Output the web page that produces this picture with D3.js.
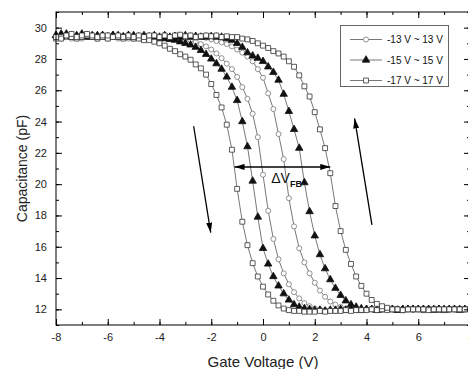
<!DOCTYPE html>
<html>
<head>
<meta charset="utf-8">
<script src="https://cdn.jsdelivr.net/npm/d3@7"></script>
<style>
  html, body { margin: 0; padding: 0; background: #fff; }
  svg { display: block; font-family: "Liberation Sans", Arial, sans-serif; }
</style>
</head>
<body>
<div id="chart"></div>
<script>
// gate voltage grid of the sweeps (V)
const gateVoltage = [
  -8.0, -7.8, -7.6, -7.4, -7.2, -7.0, -6.8, -6.6, -6.4, -6.2,
  -6.0, -5.8, -5.6, -5.4, -5.2, -5.0, -4.8, -4.6, -4.4, -4.2,
  -4.0, -3.8, -3.6, -3.4, -3.2, -3.0, -2.8, -2.6, -2.4, -2.2,
  -2.0, -1.8, -1.6, -1.4, -1.2, -1.0, -0.8, -0.6, -0.4, -0.2,
   0.0,  0.2,  0.4,  0.6,  0.8,  1.0,  1.2,  1.4,  1.6,  1.8,
   2.0,  2.2,  2.4,  2.6,  2.8,  3.0,  3.2,  3.4,  3.6,  3.8,
   4.0,  4.2,  4.4,  4.6,  4.8,  5.0,  5.2,  5.4,  5.6,  5.8,
   6.0,  6.2,  6.4,  6.6,  6.8,  7.0,  7.2,  7.4,  7.6,  7.8,
   8.0
];

// capacitance (pF), -13 V ~ 13 V sweep
const c13Down = [
  29.4, 29.3, 29.4, 29.3, 29.4, 29.3, 29.4, 29.4, 29.3, 29.4,
  29.3, 29.4, 29.3, 29.4, 29.3, 29.3, 29.4, 29.3, 29.3, 29.4,
  29.3, 29.35, 29.3, 29.3, 29.25, 29.3, 29.2, 29.1, 28.95, 28.8,
  28.6, 28.35, 28.05, 27.7, 27.35, 26.85, 26.2, 25.45, 24.5, 23.0,
  20.6, 18.3, 16.5, 15.2, 14.3, 13.6, 13.1, 12.7, 12.4, 12.2,
  12.05, 12.0, 11.95, 11.95, 11.9, 11.95, 11.95, 12.0, 11.95, 12.0,
  12.0, 12.0, 11.95, 12.0, 12.0, 12.0, 12.0, 11.95, 12.0, 12.0,
  12.0, 12.0, 12.0, 12.0, 11.95, 12.0, 12.0, 12.0, 12.0, 12.0,
  12.0
];
const c13Up = [
  29.4, 29.5, 29.4, 29.4, 29.5, 29.4, 29.4, 29.5, 29.4, 29.4,
  29.5, 29.4, 29.4, 29.5, 29.4, 29.4, 29.4, 29.5, 29.4, 29.4,
  29.4, 29.45, 29.4, 29.4, 29.45, 29.4, 29.4, 29.35, 29.4, 29.35,
  29.25, 29.15, 29.05, 28.95, 28.8, 28.6, 28.4, 28.15, 27.85, 27.35,
  26.8, 25.8, 24.8, 23.2, 21.6, 19.1, 17.3, 15.9, 15.0, 14.3,
  13.7, 13.2, 12.8, 12.5, 12.3, 12.15, 12.05, 12.0, 12.0, 11.95,
  12.0, 12.0, 12.0, 11.95, 12.0, 12.0, 12.0, 12.0, 12.0, 11.95,
  12.0, 12.0, 12.0, 12.0, 12.0, 12.0, 11.95, 12.0, 12.0, 12.0,
  12.0
];

// -15 V ~ 15 V sweep
const c15Down = [
  29.5, 29.4, 29.6, 29.5, 29.4, 29.5, 29.4, 29.5, 29.4, 29.5,
  29.4, 29.5, 29.4, 29.4, 29.5, 29.4, 29.4, 29.3, 29.4, 29.4,
  29.3, 29.3, 29.25, 29.2, 29.1, 29.0, 28.9, 28.75, 28.55, 28.3,
  28.0, 27.7, 27.35, 26.85, 26.2, 25.35, 24.0, 22.4, 20.2, 17.9,
  15.9, 14.9, 14.1, 13.5, 13.0, 12.6, 12.3, 12.15, 12.05, 12.0,
  11.95, 11.95, 11.9, 11.95, 11.95, 12.0, 11.95, 12.0, 12.0, 11.95,
  12.0, 12.0, 11.95, 12.0, 12.0, 12.0, 11.95, 12.0, 12.0, 12.0,
  12.0, 12.0, 12.0, 11.95, 12.0, 12.0, 12.0, 12.0, 11.95, 12.0,
  12.0
];
const c15Up = [
  29.5, 29.6, 29.5, 29.4, 29.5, 29.6, 29.5, 29.4, 29.5, 29.5,
  29.4, 29.5, 29.5, 29.4, 29.5, 29.5, 29.4, 29.5, 29.4, 29.5,
  29.4, 29.5, 29.4, 29.45, 29.4, 29.5, 29.4, 29.45, 29.4, 29.4,
  29.45, 29.4, 29.4, 29.3, 29.2, 29.0, 28.75, 28.4, 28.2, 28.05,
  27.85, 27.5, 27.15, 26.65, 25.75, 24.65, 23.5, 22.3, 20.1, 18.25,
  16.7, 15.5, 14.6, 13.9, 13.35, 12.9, 12.55, 12.3, 12.15, 12.05,
  12.0, 12.0, 11.95, 12.0, 12.0, 12.0, 11.95, 12.0, 12.0, 12.0,
  12.0, 12.0, 12.0, 12.0, 12.0, 11.95, 12.0, 12.0, 12.0, 12.0,
  12.0
];

// -17 V ~ 17 V sweep
const c17Down = [
  29.3, 29.4, 29.5, 29.4, 29.3, 29.4, 29.5, 29.4, 29.3, 29.4,
  29.3, 29.4, 29.4, 29.3, 29.4, 29.3, 29.3, 29.2, 29.2, 29.1,
  29.0, 28.85, 28.65, 28.5, 28.3, 28.15, 27.95, 27.65, 27.4, 27.0,
  26.4, 25.7, 24.9, 23.8, 22.2, 19.7, 17.6, 16.1, 14.95, 14.1,
  13.45, 12.95, 12.55, 12.25, 12.05, 11.95, 11.9, 11.9, 11.85, 11.85,
  11.85, 11.9, 11.85, 11.9, 11.9, 11.9, 11.95, 11.9, 11.95, 11.95,
  11.95, 12.0, 11.95, 12.0, 11.95, 12.0, 12.0, 11.95, 12.0, 12.0,
  12.0, 11.95, 12.0, 12.0, 12.0, 11.95, 12.0, 12.0, 12.0, 12.0,
  12.0
];
const c17Up = [
  29.4, 29.3, 29.5, 29.6, 29.4, 29.5, 29.6, 29.5, 29.4, 29.5,
  29.5, 29.4, 29.5, 29.4, 29.5, 29.4, 29.5, 29.4, 29.5, 29.5,
  29.4, 29.5, 29.4, 29.5, 29.55, 29.45, 29.5, 29.4, 29.45, 29.5,
  29.45, 29.5, 29.4, 29.45, 29.4, 29.4, 29.3, 29.25, 29.15, 29.0,
  28.85, 28.7, 28.5, 28.35, 28.15, 27.85, 27.5, 26.95, 26.25, 25.6,
  24.6, 23.5, 22.3, 20.7, 18.6, 17.0, 15.8, 14.9, 14.1, 13.5,
  13.0, 12.6, 12.35, 12.2, 12.1, 12.0, 12.0, 11.95, 12.0, 12.0,
  12.0, 12.0, 11.95, 12.0, 12.0, 12.0, 12.0, 12.0, 12.0, 12.0,
  12.0
];

const legendLabels = ['-13 V ~ 13 V', '-15 V ~ 15 V', '-17 V ~ 17 V'];
const xTicks = [-8, -6, -4, -2, 0, 2, 4, 6, 8];
const yTicks = [12, 14, 16, 18, 20, 22, 24, 26, 28, 30];

const width = 468, height = 369;
const margin = { top: 12, right: -2, bottom: 44, left: 56 };

const svg = d3.select('#chart').append('svg')
  .attr('width', width)
  .attr('height', height);

const x = d3.scaleLinear().domain([-8, 8]).range([margin.left, width - margin.right]);
const y = d3.scaleLinear().domain([11, 31]).range([height - margin.bottom, margin.top]);

// plain hyphen for negative tick labels, like the original plot
const tickFmt = d => String(d);

// sweeps: one marker style per range, two branches each
const styles = [
  { type: d3.symbolCircle, size: 20, fill: '#fff', stroke: '#777' },
  { type: d3.symbolTriangle, size: 24, fill: '#111', stroke: '#111' },
  { type: d3.symbolSquare, size: 24, fill: '#fff', stroke: '#333' }
];
const series = [
  { values: c13Down, style: 0 }, { values: c13Up, style: 0 },
  { values: c15Down, style: 1 }, { values: c15Up, style: 1 },
  { values: c17Down, style: 2 }, { values: c17Up, style: 2 }
];

const line = d3.line()
  .x((d, i) => x(gateVoltage[i]))
  .y(d => y(d));

const plot = svg.append('g');
plot.selectAll('path.curve')
  .data(series)
  .join('path')
  .attr('class', 'curve')
  .attr('d', d => line(d.values))
  .attr('fill', 'none')
  .attr('stroke', '#555')
  .attr('stroke-width', 0.8);

series.forEach(s => {
  const st = styles[s.style];
  plot.append('g').selectAll('path')
    .data(s.values)
    .join('path')
    .attr('transform', (d, i) => `translate(${x(gateVoltage[i])},${y(d)})`)
    .attr('d', d3.symbol().type(st.type).size(st.size))
    .attr('fill', st.fill)
    .attr('stroke', st.stroke)
    .attr('stroke-width', 0.8);
});

// axes, ticks pointing inward, mirrored on top/right
const minorX = d3.range(-8, 9, 1);
const minorY = d3.range(11, 32, 1);
const x0 = height - margin.bottom, y0 = margin.top;

function styleAxis(g) {
  g.select('.domain').remove();
  g.selectAll('line').attr('stroke', '#000');
  g.selectAll('text').attr('fill', '#222').attr('font-size', 11);
}

svg.append('g').attr('transform', `translate(0,${x0})`)
  .call(d3.axisBottom(x).tickValues(minorX).tickSize(-3).tickFormat(''))
  .call(styleAxis);
svg.append('g').attr('transform', `translate(0,${x0})`)
  .call(d3.axisBottom(x).tickValues(xTicks).tickSize(-6).tickPadding(8).tickFormat(tickFmt))
  .call(styleAxis);
svg.append('g').attr('transform', `translate(0,${y0})`)
  .call(d3.axisTop(x).tickValues(minorX).tickSize(-3).tickFormat(''))
  .call(styleAxis);
svg.append('g').attr('transform', `translate(0,${y0})`)
  .call(d3.axisTop(x).tickValues(xTicks).tickSize(-6).tickFormat(''))
  .call(styleAxis);

svg.append('g').attr('transform', `translate(${margin.left},0)`)
  .call(d3.axisLeft(y).tickValues(minorY).tickSize(-3).tickFormat(''))
  .call(styleAxis);
svg.append('g').attr('transform', `translate(${margin.left},0)`)
  .call(d3.axisLeft(y).tickValues(yTicks).tickSize(-6).tickPadding(9).tickFormat(tickFmt))
  .call(styleAxis);
svg.append('g').attr('transform', `translate(${width - margin.right},0)`)
  .call(d3.axisRight(y).tickValues(minorY).tickSize(-3).tickFormat(''))
  .call(styleAxis);
svg.append('g').attr('transform', `translate(${width - margin.right},0)`)
  .call(d3.axisRight(y).tickValues(yTicks).tickSize(-6).tickFormat(''))
  .call(styleAxis);

svg.append('rect')
  .attr('x', margin.left)
  .attr('y', margin.top)
  .attr('width', width - margin.right - margin.left)
  .attr('height', height - margin.bottom - margin.top)
  .attr('fill', 'none')
  .attr('stroke', '#000')
  .attr('stroke-width', 1);

// axis titles
svg.append('text')
  .attr('x', (margin.left + width - margin.right) / 2)
  .attr('y', 367)
  .attr('text-anchor', 'middle')
  .attr('font-size', 15)
  .attr('fill', '#222')
  .text('Gate Voltage (V)');

svg.append('text')
  .attr('transform', `translate(27,${(margin.top + height - margin.bottom) / 2}) rotate(-90)`)
  .attr('text-anchor', 'middle')
  .attr('font-size', 14)
  .attr('fill', '#222')
  .text('Capacitance (pF)');

// annotations (in data units)
const defs = svg.append('defs');
defs.append('marker')
  .attr('id', 'head')
  .attr('viewBox', '0 0 10 6')
  .attr('refX', 10).attr('refY', 3)
  .attr('markerWidth', 10).attr('markerHeight', 6)
  .attr('markerUnits', 'userSpaceOnUse')
  .attr('orient', 'auto-start-reverse')
  .append('path')
  .attr('d', 'M0,0 L10,3 L0,6 Z')
  .attr('fill', '#000');

const sweepArrows = [
  { from: [-2.68, 23.7], to: [-2.02, 16.9] },
  { from: [4.21, 17.4], to: [3.54, 24.2] }
];
svg.append('g').selectAll('line')
  .data(sweepArrows)
  .join('line')
  .attr('x1', d => x(d.from[0])).attr('y1', d => y(d.from[1]))
  .attr('x2', d => x(d.to[0])).attr('y2', d => y(d.to[1]))
  .attr('stroke', '#000')
  .attr('stroke-width', 1.3)
  .attr('marker-end', 'url(#head)');

const shift = { left: -1.1, right: 2.6, level: 21.1 };
svg.append('line')
  .attr('x1', x(shift.left)).attr('y1', y(shift.level))
  .attr('x2', x(shift.right)).attr('y2', y(shift.level))
  .attr('stroke', '#000')
  .attr('stroke-width', 1.5)
  .attr('marker-start', 'url(#head)')
  .attr('marker-end', 'url(#head)');

const shiftLabel = svg.append('text')
  .attr('x', x(0.32))
  .attr('y', y(20.05))
  .attr('font-size', 14)
  .attr('fill', '#111');
shiftLabel.append('tspan').text('\u0394V');
shiftLabel.append('tspan')
  .attr('dy', 4)
  .attr('font-size', 9)
  .attr('font-weight', 'bold')
  .text('FB');

// legend
const legend = svg.append('g');
legend.append('rect')
  .attr('x', 340.5).attr('y', 25.5)
  .attr('width', 108).attr('height', 61)
  .attr('fill', '#fff')
  .attr('stroke', '#666')
  .attr('stroke-width', 1);

const rows = legend.selectAll('g.row')
  .data(legendLabels)
  .join('g')
  .attr('class', 'row')
  .attr('transform', (d, i) => `translate(350,${39.5 + i * 20.5})`);

rows.append('line')
  .attr('x1', 0).attr('x2', 32)
  .attr('stroke', '#555').attr('stroke-width', 0.8);
rows.append('path')
  .attr('transform', 'translate(16,0)')
  .attr('d', (d, i) => d3.symbol().type(styles[i].type).size(styles[i].size)())
  .attr('fill', (d, i) => styles[i].fill)
  .attr('stroke', (d, i) => styles[i].stroke)
  .attr('stroke-width', 0.8);
rows.append('text')
  .attr('x', 37)
  .attr('dy', '0.35em')
  .attr('font-size', 10)
  .attr('fill', '#111')
  .text(d => d);
</script>
</body>
</html>
